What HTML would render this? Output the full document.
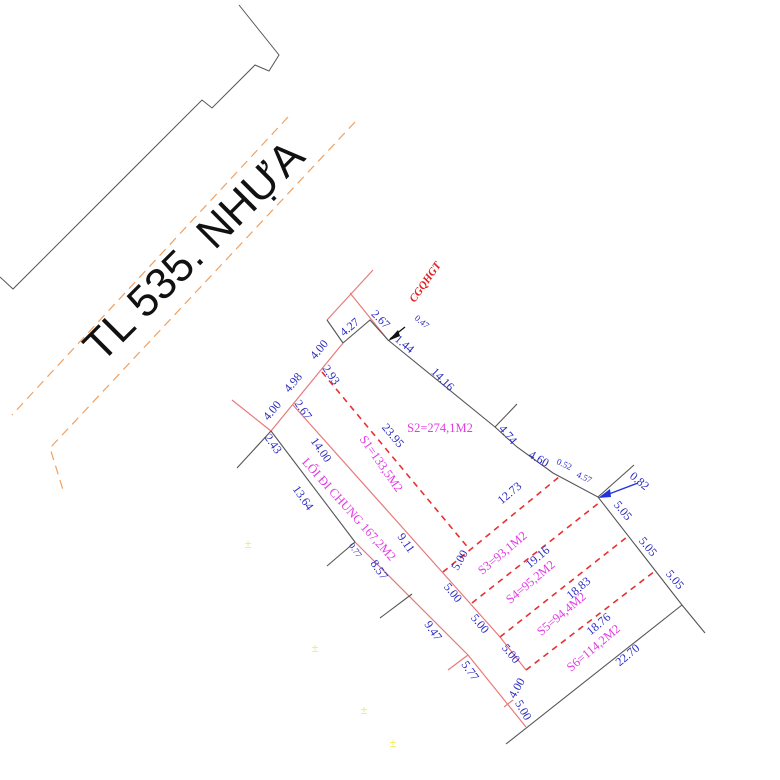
<!DOCTYPE html>
<html><head><meta charset="utf-8"><style>
html,body{margin:0;padding:0;background:#fff}
svg{display:block}
.b{font-family:"Liberation Serif",serif;font-size:12px;fill:#2b2bc4}
.m{font-family:"Liberation Serif",serif;font-size:12.5px;fill:#e23ce2}
.s{font-size:9px}
</style></head><body>
<svg width="780" height="780" viewBox="0 0 780 780" xmlns="http://www.w3.org/2000/svg">
<polyline points="239,5 279,55 269,71 255,65 212,108 202,100 13,289 0,277" fill="none" stroke="#555" stroke-width="1"/>
<g stroke="#f0a060" stroke-width="1.2" stroke-dasharray="9,6" fill="none">
<line x1="288" y1="117" x2="12" y2="415"/>
<polyline points="355,122 50,448 63,490"/>
</g>
<text x="0" y="0" transform="translate(194,251) rotate(-45)" text-anchor="middle" dominant-baseline="central" font-family="Liberation Sans,sans-serif" font-size="44" fill="#111">TL 535. NHỰA</text>

<g stroke="#e87a7a" stroke-width="1.2" fill="none">
<line x1="327" y1="320" x2="373" y2="270"/>
<line x1="350" y1="293" x2="388" y2="340"/>
<line x1="343" y1="343" x2="271" y2="431"/>
<line x1="232" y1="400" x2="271" y2="431"/>
<polyline points="355,542 468,655 526,727"/>
<polyline points="293,405 443,573 500,637 526,670"/>
<line x1="468" y1="655" x2="448" y2="670"/>
<line x1="513" y1="700" x2="504" y2="707"/>
</g>
<g stroke="#555" stroke-width="1.1" fill="none">
<line x1="327" y1="320" x2="343" y2="343"/>
<polyline points="343,343 370,320 388,340 495,427 517,447 553,473 598,497 682,605 705,633"/>
<line x1="495" y1="427" x2="517" y2="404"/>
<line x1="598" y1="497" x2="634" y2="465"/>
<line x1="682" y1="605" x2="506" y2="744"/>
<line x1="271" y1="431" x2="237" y2="468"/>
<line x1="271" y1="431" x2="355" y2="542"/>
<line x1="355" y1="542" x2="327" y2="566"/>
<line x1="412" y1="594" x2="380" y2="618"/>
</g>
<line x1="405" y1="327" x2="390" y2="339" stroke="#111" stroke-width="1.3"/>
<polygon points="388,341 398,330 400,336" fill="#111"/>
<line x1="638" y1="483" x2="601" y2="497" stroke="#2233dd" stroke-width="1.3"/>
<polygon points="598,498 610,489 611,497" fill="#2233dd"/>
<g stroke="#e83030" stroke-width="1.6" stroke-dasharray="6,5" fill="none">
<line x1="322" y1="372" x2="470" y2="550"/>
<line x1="443" y1="572" x2="559" y2="477"/>
<line x1="472" y1="603" x2="600" y2="502"/>
<line x1="500" y1="637" x2="627" y2="537"/>
<line x1="526" y1="670" x2="655" y2="571"/>
</g>
<g class="b">
<text transform="translate(352,330) rotate(-40)" text-anchor="middle">4.27</text>
<text transform="translate(378,322) rotate(45)" text-anchor="middle">2.67</text>
<text transform="translate(420,324) rotate(40)" text-anchor="middle" class="s">0.47</text>
<text transform="translate(402,347) rotate(40)" text-anchor="middle">1.44</text>
<text transform="translate(322,352) rotate(-50)" text-anchor="middle">4.00</text>
<text transform="translate(296,385) rotate(-50)" text-anchor="middle">4.98</text>
<text transform="translate(328,377) rotate(55)" text-anchor="middle">2.93</text>
<text transform="translate(275,413) rotate(-50)" text-anchor="middle">4.00</text>
<text transform="translate(300,412) rotate(55)" text-anchor="middle">2.67</text>
<text transform="translate(270,446) rotate(55)" text-anchor="middle">2.43</text>
<text transform="translate(440,382) rotate(45)" text-anchor="middle">14.16</text>
<text transform="translate(390,438) rotate(50)" text-anchor="middle">23.95</text>
<text transform="translate(318,452) rotate(55)" text-anchor="middle">14.00</text>
<text transform="translate(300,500) rotate(55)" text-anchor="middle">13.64</text>
<text transform="translate(353,552) rotate(55)" text-anchor="middle" class="s">0.77</text>
<text transform="translate(376,572) rotate(55)" text-anchor="middle">8.57</text>
<text transform="translate(403,545) rotate(55)" text-anchor="middle">9.11</text>
<text transform="translate(430,633) rotate(55)" text-anchor="middle">9.47</text>
<text transform="translate(467,673) rotate(55)" text-anchor="middle">5.77</text>
<text transform="translate(505,437) rotate(50)" text-anchor="middle">4.74</text>
<text transform="translate(537,462) rotate(30)" text-anchor="middle">4.60</text>
<text transform="translate(563,467) rotate(25)" text-anchor="middle" class="s">0.52</text>
<text transform="translate(583,480) rotate(25)" text-anchor="middle" class="s">4.57</text>
<text transform="translate(637,484) rotate(40)" text-anchor="middle">0.82</text>
<text transform="translate(512,496) rotate(-40)" text-anchor="middle">12.73</text>
<text transform="translate(463,562) rotate(-60)" text-anchor="middle">5.00</text>
<text transform="translate(540,560) rotate(-40)" text-anchor="middle">19.16</text>
<text transform="translate(581,591) rotate(-40)" text-anchor="middle">18.83</text>
<text transform="translate(601,627) rotate(-40)" text-anchor="middle">18.76</text>
<text transform="translate(630,658) rotate(-40)" text-anchor="middle">22.70</text>
<text transform="translate(620,513) rotate(50)" text-anchor="middle">5.05</text>
<text transform="translate(645,549) rotate(50)" text-anchor="middle">5.05</text>
<text transform="translate(672,582) rotate(50)" text-anchor="middle">5.05</text>
<text transform="translate(450,595) rotate(50)" text-anchor="middle">5.00</text>
<text transform="translate(477,626) rotate(50)" text-anchor="middle">5.00</text>
<text transform="translate(508,656) rotate(50)" text-anchor="middle">5.00</text>
<text transform="translate(520,690) rotate(-60)" text-anchor="middle">4.00</text>
<text transform="translate(520,712) rotate(60)" text-anchor="middle">5.00</text>
</g>
<g class="m">
<text x="440" y="432" text-anchor="middle">S2=274,1M2</text>
<text transform="translate(378,466) rotate(55)" text-anchor="middle">S1=133,5M2</text>
<text transform="translate(346,512) rotate(48)" text-anchor="middle">LỐI ĐI CHUNG 167,2M2</text>
<text transform="translate(505,556) rotate(-40)" text-anchor="middle">S3=93,1M2</text>
<text transform="translate(533,585) rotate(-40)" text-anchor="middle">S4=95,2M2</text>
<text transform="translate(564,617) rotate(-40)" text-anchor="middle">S5=94,4M2</text>
<text transform="translate(596,651) rotate(-40)" text-anchor="middle">S6=114,2M2</text>
</g>
<text transform="translate(428,284) rotate(-55)" text-anchor="middle" font-family="Liberation Serif,serif" font-style="italic" font-weight="bold" font-size="11" fill="#e02020">CGQHGT</text>
<g fill="#f4ee60" font-family="Liberation Sans,sans-serif" font-size="12" text-anchor="middle">
<text x="248" y="548">±</text><text x="315" y="652">±</text><text x="364" y="714">±</text><text x="393" y="747">±</text>
</g>
</svg>
</body></html>
